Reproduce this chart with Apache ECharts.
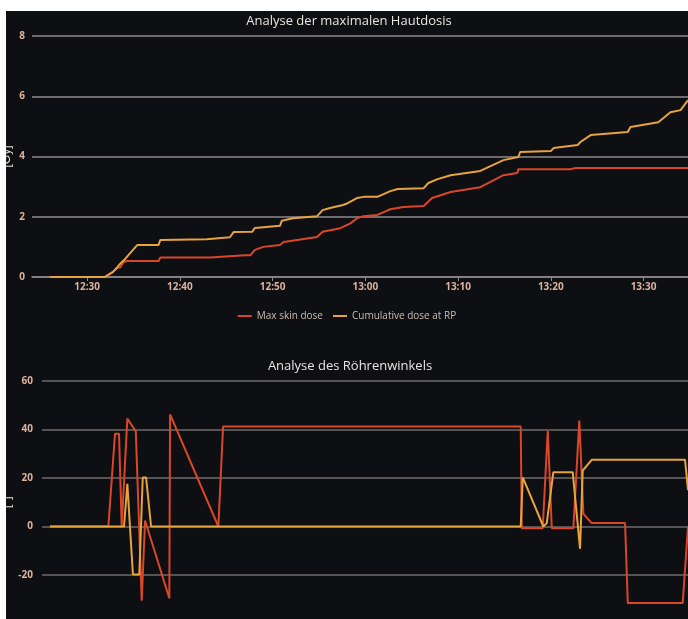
<!DOCTYPE html>
<html>
<head>
<meta charset="utf-8">
<script src="https://cdn.jsdelivr.net/npm/echarts@6.0.0/dist/echarts.min.js"></script>
<style>
    html, body { margin: 0; padding: 0; background: #fff; overflow: hidden; width: 688px; height: 619px; }
    #chart { position: absolute; left: 6px; top: 11px; width: 682px; height: 640px; background: #0e0f12; }
</style>
</head>
<body>
<div id="chart"></div>
<script>
// time values are minutes after 12:00
const tickMinutes = [30, 40, 50, 60, 70, 80, 90];

// Analyse der maximalen Hautdosis [Gy]
const skinTimes = [26.0, 31.9, 32.8, 33.2, 33.6, 33.9, 34.3, 37.7, 37.9, 43.3, 47.0, 47.6, 48.1, 49.0,
    50.8, 51.2, 54.8, 55.4, 57.3, 58.4, 59.1, 59.8, 61.3, 62.7, 64.1, 66.3, 67.2, 69.2, 72.4, 74.9,
    76.4, 76.5, 82.1, 82.7, 94.8];
const skinDose = [0, 0, 0.17, 0.3, 0.32, 0.5, 0.53, 0.53, 0.65, 0.65, 0.72, 0.72, 0.9, 1.0,
    1.06, 1.16, 1.33, 1.5, 1.62, 1.78, 1.95, 2.02, 2.06, 2.25, 2.32, 2.36, 2.62, 2.82, 2.98, 3.38,
    3.45, 3.58, 3.58, 3.62, 3.62];

const rpTimes = [26.0, 31.9, 32.8, 33.2, 33.6, 34.1, 35.4, 37.7, 37.9, 42.9, 45.4, 45.8, 47.8, 48.1,
    50.8, 51.0, 52.2, 54.8, 55.4, 56.2, 57.6, 58.1, 59.1, 59.8, 61.3, 62.7, 63.5, 66.3, 66.8, 67.8,
    69.2, 72.4, 74.9, 76.5, 76.7, 80.0, 80.3, 82.9, 83.2, 84.3, 88.3, 88.6, 91.6, 92.9, 94.0, 94.8];
const rpDose = [0, 0, 0.17, 0.3, 0.45, 0.6, 1.06, 1.06, 1.23, 1.25, 1.32, 1.49, 1.5, 1.63,
    1.7, 1.87, 1.95, 2.02, 2.22, 2.29, 2.39, 2.45, 2.62, 2.66, 2.66, 2.85, 2.92, 2.95, 3.12, 3.25,
    3.38, 3.52, 3.88, 3.98, 4.15, 4.18, 4.28, 4.38, 4.48, 4.71, 4.81, 4.98, 5.14, 5.47, 5.54, 5.87];

// Analyse des Röhrenwinkels [°]
const angle1Times = [26.0, 32.3, 33.02, 33.45, 33.74, 34.35, 35.26, 35.9, 36.26, 38.88, 38.96, 44.17,
    44.68, 76.8, 76.91, 79.17, 79.72, 80.15, 82.48, 83.12, 83.56, 84.46, 88.06, 88.35, 94.28, 94.85];
const angle1 = [0, 0, 38.2, 38.2, 0, 44.5, 39.3, -30.6, 2.5, -29.6, 46.2, 0,
    41.2, 41.2, -0.7, -0.7, 39.6, -0.7, -0.7, 43.7, 5.2, 1.4, 1.4, -31.5, -31.5, 0];

const angle2Times = [26.0, 33.99, 34.35, 34.95, 35.64, 36.01, 36.37, 36.91, 76.8, 77.02, 79.24, 79.61,
    80.32, 82.41, 83.2, 83.49, 84.46, 94.53, 94.85];
const angle2 = [0, 0, 17.6, -19.8, -19.8, 20.2, 20.2, 0, 0, 20.3, 0, 1.4,
    22.4, 22.4, -9.2, 23.1, 27.5, 27.5, 15];

const RED = '#d9472b';
const ORANGE = '#e6a43e';
const LABEL = '#dcb3a0';

function clock(v) {
    const h = 12 + Math.floor(v / 60);
    const m = Math.round(v % 60);
    return h + ':' + String(m).padStart(2, '0');
}

function pairs(xs, ys) {
    return xs.map((x, i) => [x, ys[i]]);
}

const chart = echarts.init(document.getElementById('chart'));

const titleStyle = { color: '#e8e4e0', fontSize: 13, fontWeight: 'normal', fontFamily: 'Open Sans' };
const axisText = { color: LABEL, fontSize: 10, fontWeight: 'bold', fontFamily: 'Open Sans' };
const nameStyle = { color: '#e2dcd6', fontSize: 12 };

chart.setOption({
    backgroundColor: '#0e0f12',
    animation: false,
    title: [
        { text: 'Analyse der maximalen Hautdosis', left: 338, top: -1, textAlign: 'center', textStyle: titleStyle },
        { text: 'Analyse des Röhrenwinkels', left: 339, top: 344, textAlign: 'center', textStyle: titleStyle }
    ],
    legend: {
        data: ['Max skin dose', 'Cumulative dose at RP'],
        left: 'center', top: 295,
        icon: 'rect', itemWidth: 14, itemHeight: 2, itemGap: 10,
        textStyle: { color: '#c9bdb4', fontSize: 10, fontFamily: 'Open Sans' }
    },
    grid: [
        { left: 26, right: 0, top: 25, height: 241, outerBoundsMode: 'none' },
        { left: 36, right: 0, top: 370, height: 242.5, outerBoundsMode: 'none' }
    ],
    xAxis: [
        {
            type: 'value', gridIndex: 0, min: 24.06, max: 94.8,
            axisLine: { onZero: false, lineStyle: { color: '#8f8989', width: 1.5 } },
            axisTick: { customValues: tickMinutes, length: 4, lineStyle: { color: '#8f8989' } },
            axisLabel: Object.assign({ customValues: tickMinutes, formatter: clock, margin: 5 }, axisText),
            splitLine: { show: false }
        },
        {
            type: 'value', gridIndex: 1, min: 25.14, max: 94.85,
            axisLine: { onZero: false, lineStyle: { color: '#6a6767' } },
            axisTick: { customValues: tickMinutes },
            axisLabel: Object.assign({ customValues: tickMinutes, formatter: clock }, axisText),
            splitLine: { show: false }
        }
    ],
    yAxis: [
        {
            type: 'value', gridIndex: 0, min: 0, max: 8, interval: 2,
            name: '[Gy]', nameLocation: 'middle', nameRotate: 90, nameGap: 19, nameMoveOverlap: false,
            nameTextStyle: nameStyle,
            axisLine: { show: false }, axisTick: { show: false },
            axisLabel: Object.assign({ margin: 7 }, axisText),
            splitLine: { lineStyle: { color: '#8f8989', width: 1.5 } }
        },
        {
            type: 'value', gridIndex: 1, min: -40, max: 60, interval: 20,
            name: '[°]', nameLocation: 'middle', nameRotate: 90, nameGap: 29, nameMoveOverlap: false,
            nameTextStyle: nameStyle,
            axisLine: { show: false }, axisTick: { show: false },
            axisLabel: Object.assign({ margin: 9, showMinLabel: false }, axisText),
            splitLine: { lineStyle: { color: '#6e6b6b', width: 1.5 } }
        }
    ],
    series: [
        {
            name: 'Max skin dose', type: 'line', xAxisIndex: 0, yAxisIndex: 0,
            data: pairs(skinTimes, skinDose), showSymbol: false,
            itemStyle: { color: RED }, lineStyle: { color: RED, width: 2 }
        },
        {
            name: 'Cumulative dose at RP', type: 'line', xAxisIndex: 0, yAxisIndex: 0,
            data: pairs(rpTimes, rpDose), showSymbol: false,
            itemStyle: { color: ORANGE }, lineStyle: { color: ORANGE, width: 2 }
        },
        {
            name: 'Angle 1', type: 'line', xAxisIndex: 1, yAxisIndex: 1,
            data: pairs(angle1Times, angle1), showSymbol: false, z: 2,
            lineStyle: { color: RED, width: 2 }
        },
        {
            name: 'Angle 2', type: 'line', xAxisIndex: 1, yAxisIndex: 1,
            data: pairs(angle2Times, angle2), showSymbol: false, z: 3,
            lineStyle: { color: ORANGE, width: 2 }
        }
    ]
});
</script>
</body>
</html>
